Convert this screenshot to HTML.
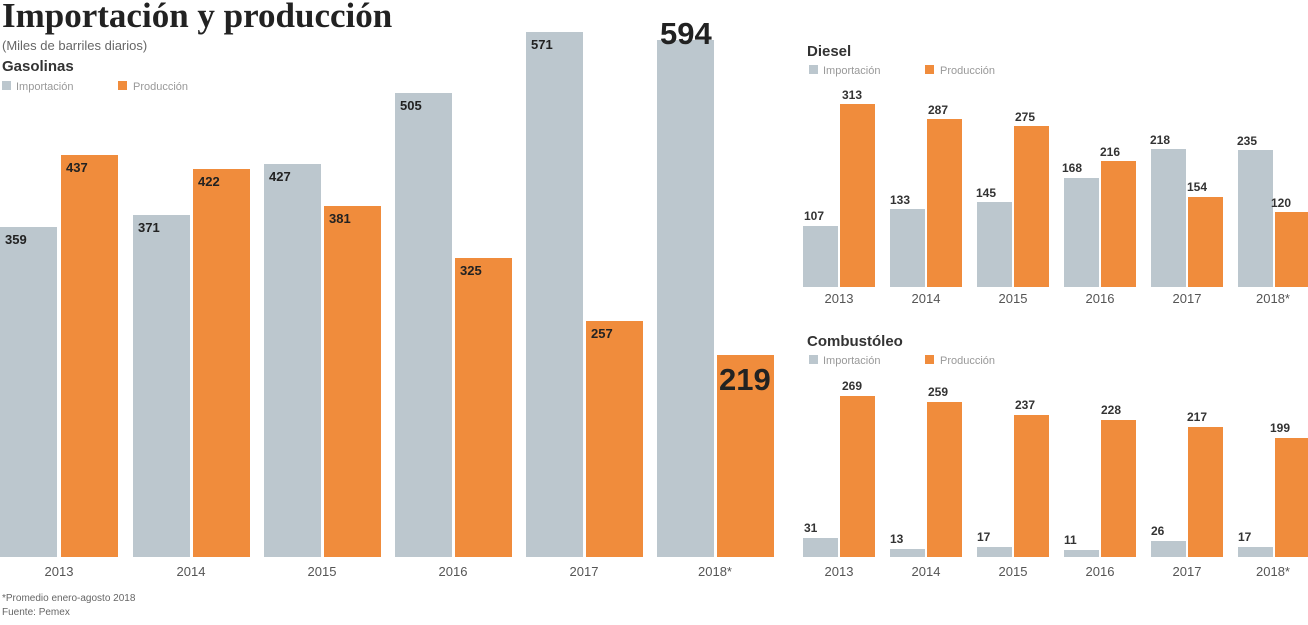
<!DOCTYPE html><html><head><meta charset="utf-8"><style>
body{margin:0;background:#fff;}
svg text{font-family:"Liberation Sans",sans-serif;}
</style></head><body>
<svg width="1308" height="620" xmlns="http://www.w3.org/2000/svg">
<text x="2" y="27" font-weight="bold" font-size="35" fill="#222" style="font-family:'Liberation Serif',serif">Importación y producción</text>
<text x="2" y="50" font-size="13" fill="#666">(Miles de barriles diarios)</text>
<text x="2" y="71" font-size="15" font-weight="bold" fill="#333">Gasolinas</text>
<rect x="2" y="81" width="9" height="9" fill="#bcc7ce"/><text x="16" y="90" font-size="11" fill="#999">Importación</text>
<rect x="118" y="81" width="9" height="9" fill="#f08c3c"/><text x="133" y="90" font-size="11" fill="#999">Producción</text>
<g fill="#bcc7ce">
<rect x="0" y="227" width="57" height="330"/><rect x="133" y="215" width="57" height="342"/><rect x="264" y="164" width="57" height="393"/><rect x="395" y="93" width="57" height="464"/><rect x="526" y="32" width="57" height="525"/><rect x="657" y="40" width="57" height="517"/>
</g>
<g fill="#f08c3c">
<rect x="61" y="155" width="57" height="402"/><rect x="193" y="169" width="57" height="388"/><rect x="324" y="206" width="57" height="351"/><rect x="455" y="258" width="57" height="299"/><rect x="586" y="321" width="57" height="236"/><rect x="717" y="355" width="57" height="202"/>
</g>
<g font-size="13" font-weight="bold" fill="#222">
<text x="5" y="244">359</text><text x="66" y="172">437</text>
<text x="138" y="232">371</text><text x="198" y="186">422</text>
<text x="269" y="181">427</text><text x="329" y="223">381</text>
<text x="400" y="110">505</text><text x="460" y="275">325</text>
<text x="531" y="49">571</text><text x="591" y="338">257</text>
<text x="660" y="44" font-size="31">594</text><text x="719" y="390" font-size="31">219</text>
</g>
<g font-size="13" fill="#555" text-anchor="middle">
<text x="59" y="576">2013</text><text x="191" y="576">2014</text><text x="322" y="576">2015</text><text x="453" y="576">2016</text><text x="584" y="576">2017</text><text x="715" y="576">2018*</text>
</g>
<text x="2" y="601" font-size="10" fill="#666">*Promedio enero-agosto 2018</text>
<text x="2" y="615" font-size="10" fill="#666">Fuente: Pemex</text>

<text x="807" y="56" font-size="15" font-weight="bold" fill="#333">Diesel</text>
<rect x="809" y="65" width="9" height="9" fill="#bcc7ce"/><text x="823" y="74" font-size="11" fill="#999">Importación</text>
<rect x="925" y="65" width="9" height="9" fill="#f08c3c"/><text x="940" y="74" font-size="11" fill="#999">Producción</text>
<g fill="#bcc7ce">
<rect x="803" y="226" width="35" height="61"/><rect x="890" y="209" width="35" height="78"/><rect x="977" y="202" width="35" height="85"/><rect x="1064" y="178" width="35" height="109"/><rect x="1151" y="149" width="35" height="138"/><rect x="1238" y="150" width="35" height="137"/>
</g>
<g fill="#f08c3c">
<rect x="840" y="104" width="35" height="183"/><rect x="927" y="119" width="35" height="168"/><rect x="1014" y="126" width="35" height="161"/><rect x="1101" y="161" width="35" height="126"/><rect x="1188" y="197" width="35" height="90"/><rect x="1275" y="212" width="33" height="75"/>
</g>
<g font-size="12" font-weight="bold" fill="#333">
<text x="804" y="220">107</text><text x="842" y="99">313</text>
<text x="890" y="204">133</text><text x="928" y="114">287</text>
<text x="976" y="197">145</text><text x="1015" y="121">275</text>
<text x="1062" y="172">168</text><text x="1100" y="156">216</text>
<text x="1150" y="144">218</text><text x="1187" y="191">154</text>
<text x="1237" y="145">235</text><text x="1271" y="207">120</text>
</g>
<g font-size="13" fill="#555" text-anchor="middle">
<text x="839" y="303">2013</text><text x="926" y="303">2014</text><text x="1013" y="303">2015</text><text x="1100" y="303">2016</text><text x="1187" y="303">2017</text><text x="1273" y="303">2018*</text>
</g>

<text x="807" y="346" font-size="15" font-weight="bold" fill="#333">Combustóleo</text>
<rect x="809" y="355" width="9" height="9" fill="#bcc7ce"/><text x="823" y="364" font-size="11" fill="#999">Importación</text>
<rect x="925" y="355" width="9" height="9" fill="#f08c3c"/><text x="940" y="364" font-size="11" fill="#999">Producción</text>
<g fill="#bcc7ce">
<rect x="803" y="538" width="35" height="19"/><rect x="890" y="549" width="35" height="8"/><rect x="977" y="547" width="35" height="10"/><rect x="1064" y="550" width="35" height="7"/><rect x="1151" y="541" width="35" height="16"/><rect x="1238" y="547" width="35" height="10"/>
</g>
<g fill="#f08c3c">
<rect x="840" y="396" width="35" height="161"/><rect x="927" y="402" width="35" height="155"/><rect x="1014" y="415" width="35" height="142"/><rect x="1101" y="420" width="35" height="137"/><rect x="1188" y="427" width="35" height="130"/><rect x="1275" y="438" width="33" height="119"/>
</g>
<g font-size="12" font-weight="bold" fill="#333">
<text x="804" y="532">31</text><text x="842" y="390">269</text>
<text x="890" y="543">13</text><text x="928" y="396">259</text>
<text x="977" y="541">17</text><text x="1015" y="409">237</text>
<text x="1064" y="544">11</text><text x="1101" y="414">228</text>
<text x="1151" y="535">26</text><text x="1187" y="421">217</text>
<text x="1238" y="541">17</text><text x="1270" y="432">199</text>
</g>
<g font-size="13" fill="#555" text-anchor="middle">
<text x="839" y="576">2013</text><text x="926" y="576">2014</text><text x="1013" y="576">2015</text><text x="1100" y="576">2016</text><text x="1187" y="576">2017</text><text x="1273" y="576">2018*</text>
</g>
</svg>
</body></html>
